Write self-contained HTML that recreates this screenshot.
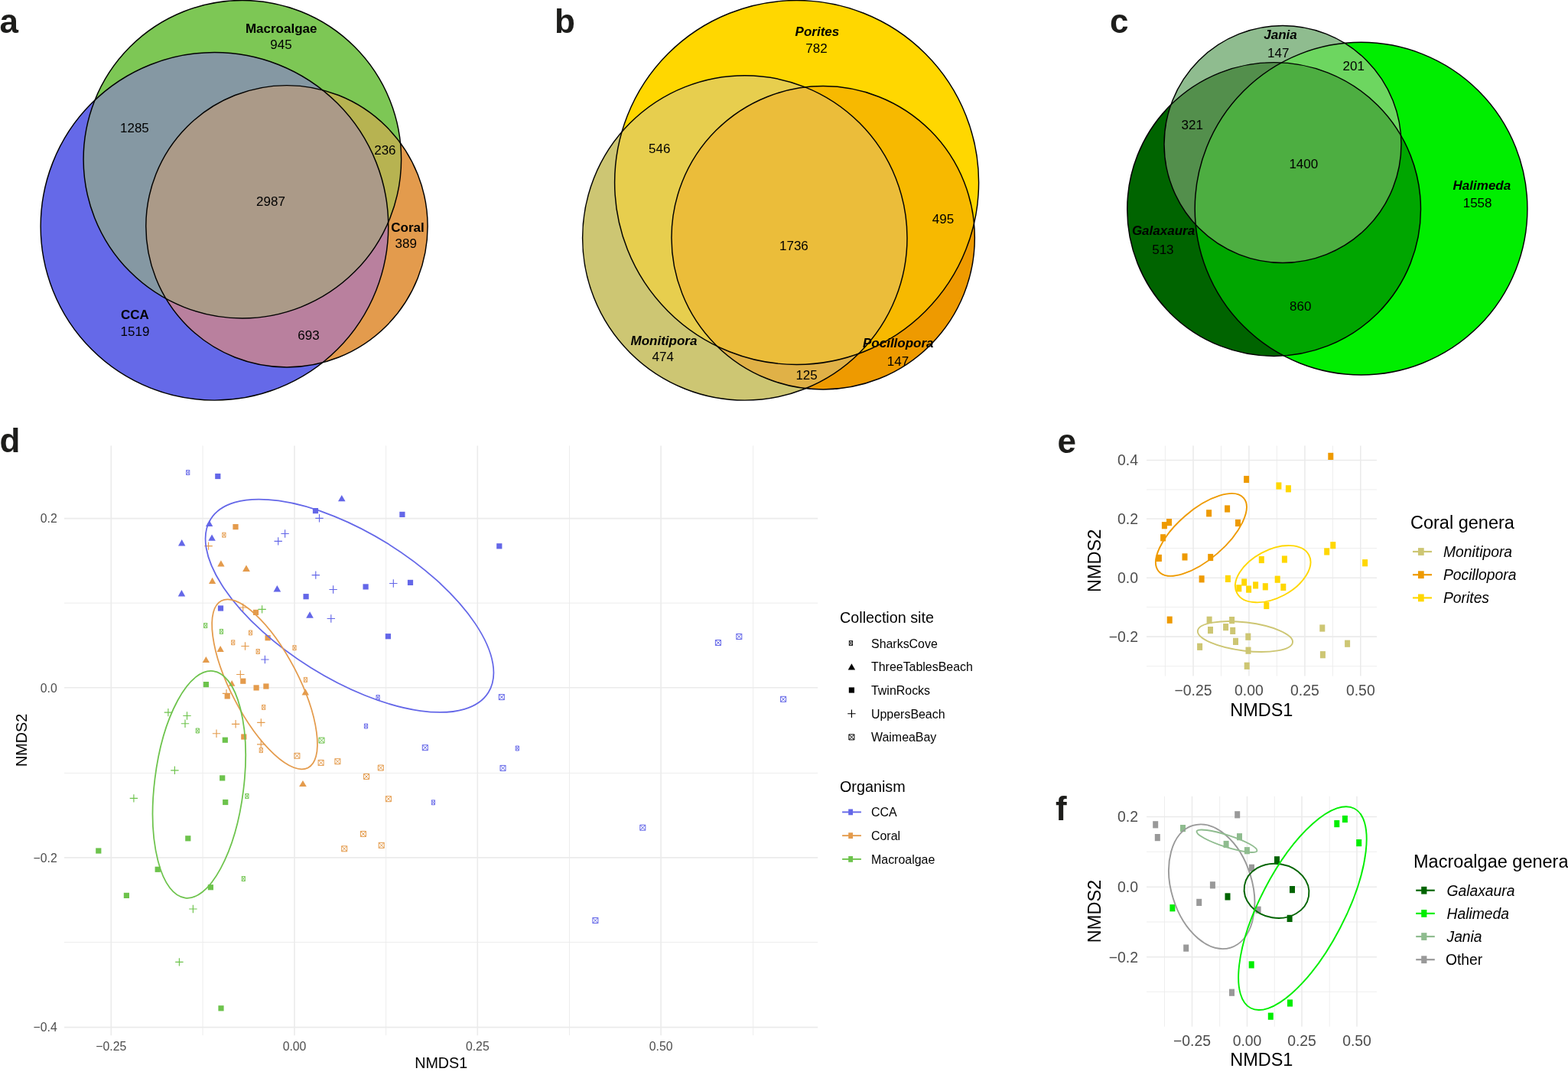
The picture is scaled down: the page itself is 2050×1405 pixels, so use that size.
<!DOCTYPE html>
<html><head><meta charset="utf-8"><title>Figure</title>
<style>html,body{margin:0;padding:0;background:#fff;}svg{display:block;}text{font-family:'Liberation Sans', Arial, Helvetica, sans-serif;}</style>
</head><body>
<svg width="2050" height="1405" viewBox="0 0 2050 1405" font-family="'Liberation Sans', Arial, Helvetica, sans-serif">
<rect width="2050" height="1405" fill="#fff"/>
<defs>
<clipPath id="vaA"><circle cx="280.45" cy="295.8" r="227.3"/></clipPath>
<clipPath id="vaB"><circle cx="316.85" cy="208.2" r="207.75"/></clipPath>
<clipPath id="vaC"><circle cx="374.95" cy="295.75" r="184.15"/></clipPath>
</defs>
<circle cx="280.45" cy="295.8" r="227.3" fill="#6569E8"/>
<circle cx="316.85" cy="208.2" r="207.75" fill="#7DC755"/>
<circle cx="374.95" cy="295.75" r="184.15" fill="#E39B4D"/>
<circle cx="316.85" cy="208.2" r="207.75" fill="#8598A3" clip-path="url(#vaA)"/>
<circle cx="374.95" cy="295.75" r="184.15" fill="#B9809E" clip-path="url(#vaA)"/>
<circle cx="374.95" cy="295.75" r="184.15" fill="#B7B351" clip-path="url(#vaB)"/>
<g clip-path="url(#vaA)">
<circle cx="374.95" cy="295.75" r="184.15" fill="#AB9A88" clip-path="url(#vaB)"/>
</g>
<circle cx="280.45" cy="295.8" r="227.3" fill="none" stroke="#000" stroke-width="1.45"/>
<circle cx="316.85" cy="208.2" r="207.75" fill="none" stroke="#000" stroke-width="1.45"/>
<circle cx="374.95" cy="295.75" r="184.15" fill="none" stroke="#000" stroke-width="1.45"/>
<text x="367.7" y="42.6" font-size="17" font-weight="bold" text-anchor="middle">Macroalgae</text>
<text x="367.5" y="64" font-size="17" text-anchor="middle">945</text>
<text x="175.9" y="172.7" font-size="17" text-anchor="middle">1285</text>
<text x="503.4" y="201.7" font-size="17" text-anchor="middle">236</text>
<text x="354" y="268.5" font-size="17" text-anchor="middle">2987</text>
<text x="533" y="303.3" font-size="17" font-weight="bold" text-anchor="middle">Coral</text>
<text x="530.7" y="324.3" font-size="17" text-anchor="middle">389</text>
<text x="176.3" y="417.4" font-size="17" font-weight="bold" text-anchor="middle">CCA</text>
<text x="176.5" y="439.3" font-size="17" text-anchor="middle">1519</text>
<text x="403.5" y="443.8" font-size="17" text-anchor="middle">693</text>
<defs>
<clipPath id="vbA"><circle cx="1041.6" cy="238.5" r="238"/></clipPath>
<clipPath id="vbB"><circle cx="973.8" cy="310.9" r="212.2"/></clipPath>
<clipPath id="vbC"><circle cx="1076.15" cy="310.75" r="198.2"/></clipPath>
</defs>
<circle cx="1041.6" cy="238.5" r="238" fill="#FFD700"/>
<circle cx="973.8" cy="310.9" r="212.2" fill="#CDC673"/>
<circle cx="1076.15" cy="310.75" r="198.2" fill="#EE9A00"/>
<circle cx="973.8" cy="310.9" r="212.2" fill="#E7CE4E" clip-path="url(#vbA)"/>
<circle cx="1076.15" cy="310.75" r="198.2" fill="#F7B900" clip-path="url(#vbA)"/>
<circle cx="1076.15" cy="310.75" r="198.2" fill="#E0B147" clip-path="url(#vbB)"/>
<g clip-path="url(#vbA)">
<circle cx="1076.15" cy="310.75" r="198.2" fill="#EBBD3A" clip-path="url(#vbB)"/>
</g>
<circle cx="1041.6" cy="238.5" r="238" fill="none" stroke="#000" stroke-width="1.45"/>
<circle cx="973.8" cy="310.9" r="212.2" fill="none" stroke="#000" stroke-width="1.45"/>
<circle cx="1076.15" cy="310.75" r="198.2" fill="none" stroke="#000" stroke-width="1.45"/>
<text x="1068.4" y="47" font-size="17" font-weight="bold" font-style="italic" text-anchor="middle">Porites</text>
<text x="1067.5" y="68.6" font-size="17" text-anchor="middle">782</text>
<text x="862.3" y="199.8" font-size="17" text-anchor="middle">546</text>
<text x="1037.9" y="327.3" font-size="17" text-anchor="middle">1736</text>
<text x="1233" y="292.2" font-size="17" text-anchor="middle">495</text>
<text x="868" y="451" font-size="17" font-weight="bold" font-style="italic" text-anchor="middle">Monitipora</text>
<text x="866.8" y="472.1" font-size="17" text-anchor="middle">474</text>
<text x="1174.3" y="454" font-size="17" font-weight="bold" font-style="italic" text-anchor="middle">Pocillopora</text>
<text x="1174" y="478" font-size="17" text-anchor="middle">147</text>
<text x="1054.6" y="495.8" font-size="17" text-anchor="middle">125</text>
<defs>
<clipPath id="vcA"><circle cx="1677" cy="188.5" r="155"/></clipPath>
<clipPath id="vcB"><circle cx="1665.6" cy="273.5" r="191.9"/></clipPath>
<clipPath id="vcC"><circle cx="1779.55" cy="272.65" r="217.35"/></clipPath>
</defs>
<circle cx="1677" cy="188.5" r="155" fill="#8FBC8F"/>
<circle cx="1665.6" cy="273.5" r="191.9" fill="#006400"/>
<circle cx="1779.55" cy="272.65" r="217.35" fill="#00EE00"/>
<circle cx="1665.6" cy="273.5" r="191.9" fill="#538F4C" clip-path="url(#vcA)"/>
<circle cx="1779.55" cy="272.65" r="217.35" fill="#6DD660" clip-path="url(#vcA)"/>
<circle cx="1779.55" cy="272.65" r="217.35" fill="#00A600" clip-path="url(#vcB)"/>
<g clip-path="url(#vcA)">
<circle cx="1779.55" cy="272.65" r="217.35" fill="#4DAE41" clip-path="url(#vcB)"/>
</g>
<circle cx="1677" cy="188.5" r="155" fill="none" stroke="#000" stroke-width="1.45"/>
<circle cx="1665.6" cy="273.5" r="191.9" fill="none" stroke="#000" stroke-width="1.45"/>
<circle cx="1779.55" cy="272.65" r="217.35" fill="none" stroke="#000" stroke-width="1.45"/>
<text x="1674" y="50.5" font-size="17" font-weight="bold" font-style="italic" text-anchor="middle">Jania</text>
<text x="1671.3" y="75.4" font-size="17" text-anchor="middle">147</text>
<text x="1769.7" y="91.8" font-size="17" text-anchor="middle">201</text>
<text x="1558.7" y="169" font-size="17" text-anchor="middle">321</text>
<text x="1704.3" y="219.6" font-size="17" text-anchor="middle">1400</text>
<text x="1937.4" y="248" font-size="17" font-weight="bold" font-style="italic" text-anchor="middle">Halimeda</text>
<text x="1931.6" y="270.5" font-size="17" text-anchor="middle">1558</text>
<text x="1521" y="307" font-size="17" font-weight="bold" font-style="italic" text-anchor="middle">Galaxaura</text>
<text x="1520.4" y="332" font-size="17" text-anchor="middle">513</text>
<text x="1700.3" y="406.4" font-size="17" text-anchor="middle">860</text>
<text x="-0.5" y="43.3" font-size="44" font-weight="bold" fill="#1d1d1b">a</text>
<text x="725" y="43.3" font-size="44" font-weight="bold" fill="#1d1d1b">b</text>
<text x="1451" y="43" font-size="44" font-weight="bold" fill="#1d1d1b">c</text>
<text x="-0.5" y="591" font-size="44" font-weight="bold" fill="#1d1d1b">d</text>
<text x="1382.5" y="591.5" font-size="44" font-weight="bold" fill="#1d1d1b">e</text>
<text x="1380" y="1072.3" font-size="44" font-weight="bold" fill="#1d1d1b">f</text>
<line x1="265.1" y1="582.5" x2="265.1" y2="1353.2" stroke="#EBEBEB" stroke-width="0.9"/>
<line x1="504.6" y1="582.5" x2="504.6" y2="1353.2" stroke="#EBEBEB" stroke-width="0.9"/>
<line x1="744.5" y1="582.5" x2="744.5" y2="1353.2" stroke="#EBEBEB" stroke-width="0.9"/>
<line x1="984.6" y1="582.5" x2="984.6" y2="1353.2" stroke="#EBEBEB" stroke-width="0.9"/>
<line x1="84" y1="788.2" x2="1069.2" y2="788.2" stroke="#EBEBEB" stroke-width="0.9"/>
<line x1="84" y1="1010.4" x2="1069.2" y2="1010.4" stroke="#EBEBEB" stroke-width="0.9"/>
<line x1="84" y1="1231.5" x2="1069.2" y2="1231.5" stroke="#EBEBEB" stroke-width="0.9"/>
<line x1="145.3" y1="582.5" x2="145.3" y2="1353.2" stroke="#EBEBEB" stroke-width="1.6"/>
<line x1="385" y1="582.5" x2="385" y2="1353.2" stroke="#EBEBEB" stroke-width="1.6"/>
<line x1="624.3" y1="582.5" x2="624.3" y2="1353.2" stroke="#EBEBEB" stroke-width="1.6"/>
<line x1="864.1" y1="582.5" x2="864.1" y2="1353.2" stroke="#EBEBEB" stroke-width="1.6"/>
<line x1="84" y1="677.6" x2="1069.2" y2="677.6" stroke="#EBEBEB" stroke-width="1.6"/>
<line x1="84" y1="898.8" x2="1069.2" y2="898.8" stroke="#EBEBEB" stroke-width="1.6"/>
<line x1="84" y1="1120.9" x2="1069.2" y2="1120.9" stroke="#EBEBEB" stroke-width="1.6"/>
<line x1="84" y1="1342.6" x2="1069.2" y2="1342.6" stroke="#EBEBEB" stroke-width="1.6"/>
<text x="145.3" y="1373.4" font-size="15.8" text-anchor="middle" fill="#4D4D4D">−0.25</text>
<text x="385" y="1373.4" font-size="15.8" text-anchor="middle" fill="#4D4D4D">0.00</text>
<text x="624.3" y="1373.4" font-size="15.8" text-anchor="middle" fill="#4D4D4D">0.25</text>
<text x="864.1" y="1373.4" font-size="15.8" text-anchor="middle" fill="#4D4D4D">0.50</text>
<text x="74.8" y="683.3" font-size="15.8" text-anchor="end" fill="#4D4D4D">0.2</text>
<text x="74.8" y="904.5" font-size="15.8" text-anchor="end" fill="#4D4D4D">0.0</text>
<text x="74.8" y="1126.6" font-size="15.8" text-anchor="end" fill="#4D4D4D">−0.2</text>
<text x="74.8" y="1348.3" font-size="15.8" text-anchor="end" fill="#4D4D4D">−0.4</text>
<text x="576.7" y="1395.7" font-size="19.75" text-anchor="middle">NMDS1</text>
<text x="34.9" y="967.4" font-size="19.75" text-anchor="middle" transform="rotate(-90 34.9 967.4)">NMDS2</text>
<path d="M243.6 614.6h4.2v6.0h-4.2zM243.6 614.6l4.2 6.0M247.8 614.6l-4.2 6.0" stroke="#6467E8" stroke-width="0.9" fill="none"/>
<rect x="281.2" y="618.9" width="7.2" height="7.2" fill="#6467E8"/>
<polygon points="269,688 278.3,688 273.65,680.1" fill="#6467E8"/>
<rect x="304.4" y="685" width="7.2" height="7.2" fill="#E49B4C"/>
<path d="M290.8 696.2h4.2v6.0h-4.2zM290.8 696.2l4.2 6.0M295 696.2l-4.2 6.0" stroke="#E49B4C" stroke-width="0.9" fill="none"/>
<polygon points="272.3,706.7 281.8,706.7 277.05,698.5" fill="#6467E8"/>
<polygon points="233,713.6 242.4,713.6 237.7,705" fill="#6467E8"/>
<path d="M267.4 713.6H277.8M272.6 708.4V718.8" stroke="#E49B4C" stroke-width="1.15" fill="none"/>
<path d="M367.4 697.5H377.8M372.6 692.3V702.7" stroke="#6467E8" stroke-width="1.15" fill="none"/>
<path d="M358.5 707.4H368.9M363.7 702.2V712.6" stroke="#6467E8" stroke-width="1.15" fill="none"/>
<polygon points="284.2,740.6 293.6,740.6 288.9,732.3" fill="#E49B4C"/>
<polygon points="317.1,746.9 326.9,746.9 322,738.5" fill="#E49B4C"/>
<polygon points="273,763 282.2,763 277.6,754.7" fill="#E49B4C"/>
<polygon points="357.5,773.6 367.2,773.6 362.35,765.1" fill="#6467E8"/>
<polygon points="232.7,779.6 242.2,779.6 237.45,771" fill="#6467E8"/>
<polygon points="442,655.2 451.6,655.2 446.8,646.9" fill="#6467E8"/>
<rect x="408.9" y="664" width="7.2" height="7.2" fill="#6467E8"/>
<path d="M412.3 677.3H422.7M417.5 672.1V682.5" stroke="#6467E8" stroke-width="1.15" fill="none"/>
<rect x="522.3" y="668.8" width="7.2" height="7.2" fill="#6467E8"/>
<path d="M407.6 751.6H418M412.8 746.4V756.8" stroke="#6467E8" stroke-width="1.15" fill="none"/>
<path d="M430.4 770.5H440.8M435.6 765.3V775.7" stroke="#6467E8" stroke-width="1.15" fill="none"/>
<rect x="396.5" y="776.1" width="7.2" height="7.2" fill="#6467E8"/>
<rect x="474.5" y="763.3" width="7.2" height="7.2" fill="#6467E8"/>
<path d="M509.1 762.5H519.5M514.3 757.3V767.7" stroke="#6467E8" stroke-width="1.15" fill="none"/>
<rect x="532.9" y="757.8" width="7.2" height="7.2" fill="#6467E8"/>
<rect x="649.2" y="710.2" width="7.2" height="7.2" fill="#6467E8"/>
<rect x="284.9" y="791.4" width="7.2" height="7.2" fill="#6467E8"/>
<path d="M312.5 794H322.9M317.7 788.8V799.2" stroke="#E49B4C" stroke-width="1.15" fill="none"/>
<rect x="330.9" y="796.8" width="7.2" height="7.2" fill="#E49B4C"/>
<path d="M337.4 796.4H347.8M342.6 791.2V801.6" stroke="#6DC34C" stroke-width="1.15" fill="none"/>
<path d="M266.6 814.6h4.2v6.0h-4.2zM266.6 814.6l4.2 6.0M270.8 814.6l-4.2 6.0" stroke="#6DC34C" stroke-width="0.9" fill="none"/>
<path d="M287.3 822.4h4.2v6.0h-4.2zM287.3 822.4l4.2 6.0M291.5 822.4l-4.2 6.0" stroke="#6DC34C" stroke-width="0.9" fill="none"/>
<path d="M325.4 824h4.2v6.0h-4.2zM325.4 824l4.2 6.0M329.6 824l-4.2 6.0" stroke="#E49B4C" stroke-width="0.9" fill="none"/>
<rect x="346.5" y="830.1" width="7.2" height="7.2" fill="#E49B4C"/>
<path d="M302.6 836.8h4.2v6.0h-4.2zM302.6 836.8l4.2 6.0M306.8 836.8l-4.2 6.0" stroke="#E49B4C" stroke-width="0.9" fill="none"/>
<path d="M315.3 844.5H325.7M320.5 839.3V849.7" stroke="#E49B4C" stroke-width="1.15" fill="none"/>
<path d="M335.1 848.5h4.2v6.0h-4.2zM335.1 848.5l4.2 6.0M339.3 848.5l-4.2 6.0" stroke="#E49B4C" stroke-width="0.9" fill="none"/>
<path d="M382.9 843.7h4.2v6.0h-4.2zM382.9 843.7l4.2 6.0M387.1 843.7l-4.2 6.0" stroke="#E49B4C" stroke-width="0.9" fill="none"/>
<polygon points="283.5,851.9 292.8,851.9 288.15,844.1" fill="#E49B4C"/>
<polygon points="264.7,865.9 274,865.9 269.35,858" fill="#E49B4C"/>
<path d="M341.2 862H351.6M346.4 856.8V867.2" stroke="#6467E8" stroke-width="1.15" fill="none"/>
<path d="M309.1 881.5H319.5M314.3 876.3V886.7" stroke="#E49B4C" stroke-width="1.15" fill="none"/>
<rect x="314.2" y="886.6" width="7.2" height="7.2" fill="#E49B4C"/>
<polygon points="298.9,896.8 307.4,896.8 303.15,888.9" fill="#E49B4C"/>
<rect x="265.8" y="891" width="7.2" height="7.2" fill="#6DC34C"/>
<rect x="331.5" y="895.3" width="7.2" height="7.2" fill="#E49B4C"/>
<rect x="344.3" y="893.4" width="7.2" height="7.2" fill="#E49B4C"/>
<path d="M290.8 906.3H301.2M296 901.1V911.5" stroke="#E49B4C" stroke-width="1.15" fill="none"/>
<rect x="293.6" y="906.3" width="7.2" height="7.2" fill="#E49B4C"/>
<path d="M342.6 921.4h4.2v6.0h-4.2zM342.6 921.4l4.2 6.0M346.8 921.4l-4.2 6.0" stroke="#E49B4C" stroke-width="0.9" fill="none"/>
<path d="M214.7 931.1H225.1M219.9 925.9V936.3" stroke="#6DC34C" stroke-width="1.15" fill="none"/>
<path d="M239.3 935.5H249.7M244.5 930.3V940.7" stroke="#6DC34C" stroke-width="1.15" fill="none"/>
<path d="M236.8 945.7H247.2M242 940.5V950.9" stroke="#6DC34C" stroke-width="1.15" fill="none"/>
<path d="M256.2 952h4.2v6.0h-4.2zM256.2 952l4.2 6.0M260.4 952l-4.2 6.0" stroke="#6DC34C" stroke-width="0.9" fill="none"/>
<path d="M302.9 946.3H313.3M308.1 941.1V951.5" stroke="#E49B4C" stroke-width="1.15" fill="none"/>
<path d="M336.1 944.4H346.5M341.3 939.2V949.6" stroke="#E49B4C" stroke-width="1.15" fill="none"/>
<path d="M277.8 958.7H288.2M283 953.5V963.9" stroke="#E49B4C" stroke-width="1.15" fill="none"/>
<rect x="290.7" y="963.6" width="7.2" height="7.2" fill="#6DC34C"/>
<rect x="315.2" y="959.4" width="7.2" height="7.2" fill="#E49B4C"/>
<path d="M336 972.9H346.4M341.2 967.7V978.1" stroke="#E49B4C" stroke-width="1.15" fill="none"/>
<path d="M339.2 977.6h4.2v6.0h-4.2zM339.2 977.6l4.2 6.0M343.4 977.6l-4.2 6.0" stroke="#E49B4C" stroke-width="0.9" fill="none"/>
<polygon points="400.2,807.8 409.9,807.8 405.05,799.3" fill="#6467E8"/>
<path d="M427.6 808.5H438M432.8 803.3V813.7" stroke="#6467E8" stroke-width="1.15" fill="none"/>
<rect x="503.8" y="828.1" width="7.2" height="7.2" fill="#6467E8"/>
<path d="M397.3 885.4h4.2v6.0h-4.2zM397.3 885.4l4.2 6.0M401.5 885.4l-4.2 6.0" stroke="#E49B4C" stroke-width="0.9" fill="none"/>
<polygon points="394.6,908.5 404,908.5 399.3,900.2" fill="#E49B4C"/>
<path d="M492 908.6h4.2v6.0h-4.2zM492 908.6l4.2 6.0M496.2 908.6l-4.2 6.0" stroke="#6467E8" stroke-width="0.9" fill="none"/>
<path d="M476.4 946h4.2v6.0h-4.2zM476.4 946l4.2 6.0M480.6 946l-4.2 6.0" stroke="#6467E8" stroke-width="0.9" fill="none"/>
<path d="M417 964.1h7.0v7.0h-7.0zM417 964.1l7.0 7.0M424 964.1l-7.0 7.0" stroke="#6DC34C" stroke-width="1.0" fill="none"/>
<path d="M552.3 973.7h7.0v7.0h-7.0zM552.3 973.7l7.0 7.0M559.3 973.7l-7.0 7.0" stroke="#6467E8" stroke-width="1.0" fill="none"/>
<path d="M652.3 907.6h7.0v7.0h-7.0zM652.3 907.6l7.0 7.0M659.3 907.6l-7.0 7.0" stroke="#6467E8" stroke-width="1.0" fill="none"/>
<path d="M674.2 975h4.2v6.0h-4.2zM674.2 975l4.2 6.0M678.4 975l-4.2 6.0" stroke="#6467E8" stroke-width="0.9" fill="none"/>
<path d="M935.4 836.5h7.0v7.0h-7.0zM935.4 836.5l7.0 7.0M942.4 836.5l-7.0 7.0" stroke="#6467E8" stroke-width="1.0" fill="none"/>
<path d="M962.8 828.5h7.0v7.0h-7.0zM962.8 828.5l7.0 7.0M969.8 828.5l-7.0 7.0" stroke="#6467E8" stroke-width="1.0" fill="none"/>
<path d="M1020.6 910.3h7.0v7.0h-7.0zM1020.6 910.3l7.0 7.0M1027.6 910.3l-7.0 7.0" stroke="#6467E8" stroke-width="1.0" fill="none"/>
<path d="M223.2 1006.8H233.6M228.4 1001.6V1012" stroke="#6DC34C" stroke-width="1.15" fill="none"/>
<rect x="287.1" y="1013.3" width="7.2" height="7.2" fill="#6DC34C"/>
<path d="M169.7 1043.4H180.1M174.9 1038.2V1048.6" stroke="#6DC34C" stroke-width="1.15" fill="none"/>
<rect x="291.1" y="1044.9" width="7.2" height="7.2" fill="#6DC34C"/>
<rect x="242.2" y="1092.2" width="7.2" height="7.2" fill="#6DC34C"/>
<rect x="125.2" y="1108.4" width="7.2" height="7.2" fill="#6DC34C"/>
<rect x="202.6" y="1132.7" width="7.2" height="7.2" fill="#6DC34C"/>
<rect x="161.8" y="1166.8" width="7.2" height="7.2" fill="#6DC34C"/>
<rect x="271.8" y="1156.1" width="7.2" height="7.2" fill="#6DC34C"/>
<path d="M247.2 1188H257.6M252.4 1182.8V1193.2" stroke="#6DC34C" stroke-width="1.15" fill="none"/>
<path d="M316.2 1145.5h4.2v6.0h-4.2zM316.2 1145.5l4.2 6.0M320.4 1145.5l-4.2 6.0" stroke="#6DC34C" stroke-width="0.9" fill="none"/>
<path d="M229.2 1257.4H239.6M234.4 1252.2V1262.6" stroke="#6DC34C" stroke-width="1.15" fill="none"/>
<rect x="285.4" y="1314.2" width="7.2" height="7.2" fill="#6DC34C"/>
<path d="M384.9 984.3h7.0v7.0h-7.0zM384.9 984.3l7.0 7.0M391.9 984.3l-7.0 7.0" stroke="#E49B4C" stroke-width="1.0" fill="none"/>
<path d="M416.1 993.4h7.0v7.0h-7.0zM416.1 993.4l7.0 7.0M423.1 993.4l-7.0 7.0" stroke="#E49B4C" stroke-width="1.0" fill="none"/>
<path d="M437.9 991.7h7.0v7.0h-7.0zM437.9 991.7l7.0 7.0M444.9 991.7l-7.0 7.0" stroke="#E49B4C" stroke-width="1.0" fill="none"/>
<path d="M475.6 1011.4h7.0v7.0h-7.0zM475.6 1011.4l7.0 7.0M482.6 1011.4l-7.0 7.0" stroke="#E49B4C" stroke-width="1.0" fill="none"/>
<polygon points="391.1,1028.1 400.8,1028.1 395.95,1020.1" fill="#E49B4C"/>
<path d="M320.8 1037.5h4.2v6.0h-4.2zM320.8 1037.5l4.2 6.0M325 1037.5l-4.2 6.0" stroke="#6DC34C" stroke-width="0.9" fill="none"/>
<path d="M471.4 1086.4h7.0v7.0h-7.0zM471.4 1086.4l7.0 7.0M478.4 1086.4l-7.0 7.0" stroke="#E49B4C" stroke-width="1.0" fill="none"/>
<path d="M446.7 1105.8h7.0v7.0h-7.0zM446.7 1105.8l7.0 7.0M453.7 1105.8l-7.0 7.0" stroke="#E49B4C" stroke-width="1.0" fill="none"/>
<path d="M494.3 1000h7.0v7.0h-7.0zM494.3 1000l7.0 7.0M501.3 1000l-7.0 7.0" stroke="#E49B4C" stroke-width="1.0" fill="none"/>
<path d="M654 1000.4h7.0v7.0h-7.0zM654 1000.4l7.0 7.0M661 1000.4l-7.0 7.0" stroke="#6467E8" stroke-width="1.0" fill="none"/>
<path d="M504.4 1040.7h7.0v7.0h-7.0zM504.4 1040.7l7.0 7.0M511.4 1040.7l-7.0 7.0" stroke="#E49B4C" stroke-width="1.0" fill="none"/>
<path d="M564.3 1045.8h4.2v6.0h-4.2zM564.3 1045.8l4.2 6.0M568.5 1045.8l-4.2 6.0" stroke="#6467E8" stroke-width="0.9" fill="none"/>
<path d="M495.2 1101.3h7.0v7.0h-7.0zM495.2 1101.3l7.0 7.0M502.2 1101.3l-7.0 7.0" stroke="#E49B4C" stroke-width="1.0" fill="none"/>
<path d="M836.8 1078.2h7.0v7.0h-7.0zM836.8 1078.2l7.0 7.0M843.8 1078.2l-7.0 7.0" stroke="#6467E8" stroke-width="1.0" fill="none"/>
<path d="M774.9 1199.5h7.0v7.0h-7.0zM774.9 1199.5l7.0 7.0M781.9 1199.5l-7.0 7.0" stroke="#6467E8" stroke-width="1.0" fill="none"/>
<ellipse cx="456.99" cy="791.76" rx="95.38" ry="213.96" transform="rotate(121.96 456.99 791.76)" fill="none" stroke="#6467E8" stroke-width="1.75"/>
<ellipse cx="346.05" cy="894.33" rx="122.96" ry="44.17" transform="rotate(-117.46 346.05 894.33)" fill="none" stroke="#E49B4C" stroke-width="1.75"/>
<ellipse cx="260.36" cy="1025.35" rx="149.35" ry="58.34" transform="rotate(-83 260.36 1025.35)" fill="none" stroke="#6DC34C" stroke-width="1.75"/>
<text x="1098" y="814.2" font-size="19.75">Collection site</text>
<path d="M1110.3 837.6h4.2v6.0h-4.2zM1110.3 837.6l4.2 6.0M1114.5 837.6l-4.2 6.0" stroke="#000" stroke-width="0.9" fill="none"/>
<text x="1139" y="846.6" font-size="15.95">SharksCove</text>
<polygon points="1108.7,875.4 1118.1,875.4 1113.4,867.2" fill="#000"/>
<text x="1139" y="877.3" font-size="15.95">ThreeTablesBeach</text>
<rect x="1109.8" y="898.4" width="7.2" height="7.2" fill="#000"/>
<text x="1139" y="908" font-size="15.95">TwinRocks</text>
<path d="M1108.2 932.7H1118.6M1113.4 927.5V937.9" stroke="#000" stroke-width="1.15" fill="none"/>
<text x="1139" y="938.7" font-size="15.95">UppersBeach</text>
<path d="M1109.9 959.9h7.0v7.0h-7.0zM1109.9 959.9l7.0 7.0M1116.9 959.9l-7.0 7.0" stroke="#000" stroke-width="1.0" fill="none"/>
<text x="1139" y="969.4" font-size="15.95">WaimeaBay</text>
<text x="1098" y="1034.5" font-size="19.75">Organism</text>
<line x1="1101.1" y1="1061.4" x2="1125.9" y2="1061.4" stroke="#6467E8" stroke-width="1.9"/>
<rect x="1109.2" y="1057.5" width="5.8" height="7.8" fill="#6467E8"/>
<text x="1139" y="1067.3" font-size="15.95">CCA</text>
<line x1="1101.1" y1="1092.15" x2="1125.9" y2="1092.15" stroke="#E49B4C" stroke-width="1.9"/>
<rect x="1109.2" y="1088.25" width="5.8" height="7.8" fill="#E49B4C"/>
<text x="1139" y="1098.05" font-size="15.95">Coral</text>
<line x1="1101.1" y1="1122.9" x2="1125.9" y2="1122.9" stroke="#6DC34C" stroke-width="1.9"/>
<rect x="1109.2" y="1119" width="5.8" height="7.8" fill="#6DC34C"/>
<text x="1139" y="1128.8" font-size="15.95">Macroalgae</text>
<line x1="1523.4" y1="582.6" x2="1523.4" y2="883.6" stroke="#EBEBEB" stroke-width="0.85"/>
<line x1="1596.5" y1="582.6" x2="1596.5" y2="883.6" stroke="#EBEBEB" stroke-width="0.85"/>
<line x1="1669.4" y1="582.6" x2="1669.4" y2="883.6" stroke="#EBEBEB" stroke-width="0.85"/>
<line x1="1742.4" y1="582.6" x2="1742.4" y2="883.6" stroke="#EBEBEB" stroke-width="0.85"/>
<line x1="1499" y1="640" x2="1800" y2="640" stroke="#EBEBEB" stroke-width="0.85"/>
<line x1="1499" y1="716.5" x2="1800" y2="716.5" stroke="#EBEBEB" stroke-width="0.85"/>
<line x1="1499" y1="793.4" x2="1800" y2="793.4" stroke="#EBEBEB" stroke-width="0.85"/>
<line x1="1499" y1="870.8" x2="1800" y2="870.8" stroke="#EBEBEB" stroke-width="0.85"/>
<line x1="1560" y1="582.6" x2="1560" y2="883.6" stroke="#EBEBEB" stroke-width="1.55"/>
<line x1="1632.9" y1="582.6" x2="1632.9" y2="883.6" stroke="#EBEBEB" stroke-width="1.55"/>
<line x1="1705.9" y1="582.6" x2="1705.9" y2="883.6" stroke="#EBEBEB" stroke-width="1.55"/>
<line x1="1778.8" y1="582.6" x2="1778.8" y2="883.6" stroke="#EBEBEB" stroke-width="1.55"/>
<line x1="1499" y1="601.4" x2="1800" y2="601.4" stroke="#EBEBEB" stroke-width="1.55"/>
<line x1="1499" y1="678" x2="1800" y2="678" stroke="#EBEBEB" stroke-width="1.55"/>
<line x1="1499" y1="755.2" x2="1800" y2="755.2" stroke="#EBEBEB" stroke-width="1.55"/>
<line x1="1499" y1="832.1" x2="1800" y2="832.1" stroke="#EBEBEB" stroke-width="1.55"/>
<text x="1560" y="908.8" font-size="19.4" text-anchor="middle" fill="#4D4D4D">−0.25</text>
<text x="1632.9" y="908.8" font-size="19.4" text-anchor="middle" fill="#4D4D4D">0.00</text>
<text x="1705.9" y="908.8" font-size="19.4" text-anchor="middle" fill="#4D4D4D">0.25</text>
<text x="1778.8" y="908.8" font-size="19.4" text-anchor="middle" fill="#4D4D4D">0.50</text>
<text x="1488" y="608.2" font-size="19.4" text-anchor="end" fill="#4D4D4D">0.4</text>
<text x="1488" y="684.8" font-size="19.4" text-anchor="end" fill="#4D4D4D">0.2</text>
<text x="1488" y="762" font-size="19.4" text-anchor="end" fill="#4D4D4D">0.0</text>
<text x="1488" y="838.9" font-size="19.4" text-anchor="end" fill="#4D4D4D">−0.2</text>
<text x="1649.3" y="935.6" font-size="23.5" text-anchor="middle">NMDS1</text>
<text x="1438.7" y="732.9" font-size="23.5" text-anchor="middle" transform="rotate(-90 1438.7 732.9)">NMDS2</text>
<rect x="1626.1" y="621.9" width="7" height="9.2" fill="#EE9A00"/>
<rect x="1601.1" y="660.4" width="7" height="9.2" fill="#EE9A00"/>
<rect x="1577.1" y="666.2" width="7" height="9.2" fill="#EE9A00"/>
<rect x="1615" y="678.9" width="7" height="9.2" fill="#EE9A00"/>
<rect x="1525" y="678" width="7" height="9.2" fill="#EE9A00"/>
<rect x="1518.9" y="682.1" width="7" height="9.2" fill="#EE9A00"/>
<rect x="1517.1" y="698.2" width="7" height="9.2" fill="#EE9A00"/>
<rect x="1511.9" y="724.8" width="7" height="9.2" fill="#EE9A00"/>
<rect x="1545.5" y="723.3" width="7" height="9.2" fill="#EE9A00"/>
<rect x="1579.2" y="723.9" width="7" height="9.2" fill="#EE9A00"/>
<rect x="1736.3" y="591.8" width="7" height="9.2" fill="#EE9A00"/>
<rect x="1567.6" y="752.2" width="7" height="9.2" fill="#EE9A00"/>
<rect x="1525.7" y="805.6" width="7" height="9.2" fill="#EE9A00"/>
<rect x="1668.4" y="630.4" width="7" height="9.2" fill="#FFD700"/>
<rect x="1680.9" y="634.2" width="7" height="9.2" fill="#FFD700"/>
<rect x="1739.3" y="708.1" width="7" height="9.2" fill="#FFD700"/>
<rect x="1731.2" y="716.3" width="7" height="9.2" fill="#FFD700"/>
<rect x="1645.8" y="726.9" width="7" height="9.2" fill="#FFD700"/>
<rect x="1675.9" y="726.4" width="7" height="9.2" fill="#FFD700"/>
<rect x="1781.1" y="731.1" width="7" height="9.2" fill="#FFD700"/>
<rect x="1601.9" y="751.8" width="7" height="9.2" fill="#FFD700"/>
<rect x="1623.2" y="756.4" width="7" height="9.2" fill="#FFD700"/>
<rect x="1616.3" y="764.2" width="7" height="9.2" fill="#FFD700"/>
<rect x="1629.1" y="765.5" width="7" height="9.2" fill="#FFD700"/>
<rect x="1638.1" y="760.3" width="7" height="9.2" fill="#FFD700"/>
<rect x="1650.8" y="762.2" width="7" height="9.2" fill="#FFD700"/>
<rect x="1666.7" y="752.6" width="7" height="9.2" fill="#FFD700"/>
<rect x="1674.3" y="762.8" width="7" height="9.2" fill="#FFD700"/>
<rect x="1652.3" y="786.9" width="7" height="9.2" fill="#FFD700"/>
<rect x="1577.6" y="805.7" width="7" height="9.2" fill="#CDC673"/>
<rect x="1607.1" y="806" width="7" height="9.2" fill="#CDC673"/>
<rect x="1579" y="819" width="7" height="9.2" fill="#CDC673"/>
<rect x="1599.1" y="815" width="7" height="9.2" fill="#CDC673"/>
<rect x="1608.2" y="819.8" width="7" height="9.2" fill="#CDC673"/>
<rect x="1628.3" y="827.6" width="7" height="9.2" fill="#CDC673"/>
<rect x="1612" y="833.8" width="7" height="9.2" fill="#CDC673"/>
<rect x="1565.1" y="840.7" width="7" height="9.2" fill="#CDC673"/>
<rect x="1628.5" y="845.6" width="7" height="9.2" fill="#CDC673"/>
<rect x="1626.7" y="865.7" width="7" height="9.2" fill="#CDC673"/>
<rect x="1725.3" y="816.4" width="7" height="9.2" fill="#CDC673"/>
<rect x="1758.1" y="836.6" width="7" height="9.2" fill="#CDC673"/>
<rect x="1725.9" y="851.1" width="7" height="9.2" fill="#CDC673"/>
<ellipse cx="1570.43" cy="698.91" rx="73.33" ry="32.34" transform="rotate(139.15 1570.43 698.91)" fill="none" stroke="#EE9A00" stroke-width="1.9"/>
<ellipse cx="1664.21" cy="750.19" rx="31.21" ry="53.18" transform="rotate(62.08 1664.21 750.19)" fill="none" stroke="#FFD700" stroke-width="1.9"/>
<ellipse cx="1627.93" cy="831.99" rx="62.51" ry="18.58" transform="rotate(-173.06 1627.93 831.99)" fill="none" stroke="#CDC673" stroke-width="1.9"/>
<text x="1844" y="691" font-size="23.5">Coral genera</text>
<line x1="1847" y1="721" x2="1872" y2="721" stroke="#CDC673" stroke-width="2.2"/>
<rect x="1854" y="716.1" width="7.7" height="9.8" fill="#CDC673"/>
<text x="1887" y="727.9" font-size="19.3" font-style="italic">Monitipora</text>
<line x1="1847" y1="751.2" x2="1872" y2="751.2" stroke="#EE9A00" stroke-width="2.2"/>
<rect x="1854" y="746.3" width="7.7" height="9.8" fill="#EE9A00"/>
<text x="1887" y="758.1" font-size="19.3" font-style="italic">Pocillopora</text>
<line x1="1847" y1="781.4" x2="1872" y2="781.4" stroke="#FFD700" stroke-width="2.2"/>
<rect x="1854" y="776.5" width="7.7" height="9.8" fill="#FFD700"/>
<text x="1887" y="788.3" font-size="19.3" font-style="italic">Porites</text>
<line x1="1522.5" y1="1040.8" x2="1522.5" y2="1341.7" stroke="#EBEBEB" stroke-width="0.85"/>
<line x1="1594.7" y1="1040.8" x2="1594.7" y2="1341.7" stroke="#EBEBEB" stroke-width="0.85"/>
<line x1="1666.3" y1="1040.8" x2="1666.3" y2="1341.7" stroke="#EBEBEB" stroke-width="0.85"/>
<line x1="1738.2" y1="1040.8" x2="1738.2" y2="1341.7" stroke="#EBEBEB" stroke-width="0.85"/>
<line x1="1499" y1="1113.2" x2="1800" y2="1113.2" stroke="#EBEBEB" stroke-width="0.85"/>
<line x1="1499" y1="1205" x2="1800" y2="1205" stroke="#EBEBEB" stroke-width="0.85"/>
<line x1="1499" y1="1296.2" x2="1800" y2="1296.2" stroke="#EBEBEB" stroke-width="0.85"/>
<line x1="1558.5" y1="1040.8" x2="1558.5" y2="1341.7" stroke="#EBEBEB" stroke-width="1.55"/>
<line x1="1630.5" y1="1040.8" x2="1630.5" y2="1341.7" stroke="#EBEBEB" stroke-width="1.55"/>
<line x1="1702" y1="1040.8" x2="1702" y2="1341.7" stroke="#EBEBEB" stroke-width="1.55"/>
<line x1="1774" y1="1040.8" x2="1774" y2="1341.7" stroke="#EBEBEB" stroke-width="1.55"/>
<line x1="1499" y1="1067.5" x2="1800" y2="1067.5" stroke="#EBEBEB" stroke-width="1.55"/>
<line x1="1499" y1="1159.2" x2="1800" y2="1159.2" stroke="#EBEBEB" stroke-width="1.55"/>
<line x1="1499" y1="1250.7" x2="1800" y2="1250.7" stroke="#EBEBEB" stroke-width="1.55"/>
<text x="1558.5" y="1366.8" font-size="19.4" text-anchor="middle" fill="#4D4D4D">−0.25</text>
<text x="1630.5" y="1366.8" font-size="19.4" text-anchor="middle" fill="#4D4D4D">0.00</text>
<text x="1702" y="1366.8" font-size="19.4" text-anchor="middle" fill="#4D4D4D">0.25</text>
<text x="1774" y="1366.8" font-size="19.4" text-anchor="middle" fill="#4D4D4D">0.50</text>
<text x="1488" y="1074.3" font-size="19.4" text-anchor="end" fill="#4D4D4D">0.2</text>
<text x="1488" y="1166" font-size="19.4" text-anchor="end" fill="#4D4D4D">0.0</text>
<text x="1488" y="1257.5" font-size="19.4" text-anchor="end" fill="#4D4D4D">−0.2</text>
<text x="1649.3" y="1393.3" font-size="23.5" text-anchor="middle">NMDS1</text>
<text x="1438.7" y="1191" font-size="23.5" text-anchor="middle" transform="rotate(-90 1438.7 1191)">NMDS2</text>
<rect x="1507.2" y="1073.2" width="7" height="9.2" fill="#999999"/>
<rect x="1509.8" y="1090" width="7" height="9.2" fill="#999999"/>
<rect x="1614.2" y="1060.2" width="7" height="9.2" fill="#999999"/>
<rect x="1633" y="1129.7" width="7" height="9.2" fill="#999999"/>
<rect x="1581.9" y="1152.2" width="7" height="9.2" fill="#999999"/>
<rect x="1564.2" y="1174.8" width="7" height="9.2" fill="#999999"/>
<rect x="1641.6" y="1184.6" width="7" height="9.2" fill="#999999"/>
<rect x="1547.2" y="1234.5" width="7" height="9.2" fill="#999999"/>
<rect x="1607" y="1292.6" width="7" height="9.2" fill="#999999"/>
<rect x="1543" y="1078" width="7" height="9.2" fill="#8FBC8F"/>
<rect x="1617" y="1089.1" width="7" height="9.2" fill="#8FBC8F"/>
<rect x="1599.6" y="1098.9" width="7" height="9.2" fill="#8FBC8F"/>
<rect x="1626.9" y="1107.1" width="7" height="9.2" fill="#8FBC8F"/>
<rect x="1666" y="1119.2" width="7" height="9.2" fill="#006400"/>
<rect x="1601.5" y="1167.3" width="7" height="9.2" fill="#006400"/>
<rect x="1686" y="1158" width="7" height="9.2" fill="#006400"/>
<rect x="1682.6" y="1195.8" width="7" height="9.2" fill="#006400"/>
<rect x="1744.3" y="1072" width="7" height="9.2" fill="#00EE00"/>
<rect x="1754.9" y="1065.9" width="7" height="9.2" fill="#00EE00"/>
<rect x="1773.2" y="1097" width="7" height="9.2" fill="#00EE00"/>
<rect x="1529.4" y="1182.1" width="7" height="9.2" fill="#00EE00"/>
<rect x="1632.7" y="1256.3" width="7" height="9.2" fill="#00EE00"/>
<rect x="1683" y="1306.4" width="7" height="9.2" fill="#00EE00"/>
<rect x="1657.8" y="1323.6" width="7" height="9.2" fill="#00EE00"/>
<ellipse cx="1584.18" cy="1158.73" rx="52.75" ry="83.58" transform="rotate(162.8 1584.18 1158.73)" fill="none" stroke="#999999" stroke-width="1.9"/>
<ellipse cx="1603.98" cy="1099.24" rx="41.43" ry="7.8" transform="rotate(-162.12 1603.98 1099.24)" fill="none" stroke="#8FBC8F" stroke-width="1.9"/>
<ellipse cx="1669.02" cy="1164.36" rx="42.6" ry="35.39" transform="rotate(-170.47 1669.02 1164.36)" fill="none" stroke="#006400" stroke-width="1.9"/>
<ellipse cx="1702.91" cy="1187.13" rx="55.48" ry="146.97" transform="rotate(-152.53 1702.91 1187.13)" fill="none" stroke="#00EE00" stroke-width="1.9"/>
<text x="1848" y="1133.8" font-size="23.5">Macroalgae genera</text>
<line x1="1851.2" y1="1163.7" x2="1875.8" y2="1163.7" stroke="#006400" stroke-width="2.2"/>
<rect x="1858.2" y="1158.8" width="7.2" height="9.8" fill="#006400"/>
<text x="1891.5" y="1170.6" font-size="19.3" font-style="italic">Galaxaura</text>
<line x1="1851.2" y1="1193.87" x2="1875.8" y2="1193.87" stroke="#00EE00" stroke-width="2.2"/>
<rect x="1858.2" y="1188.97" width="7.2" height="9.8" fill="#00EE00"/>
<text x="1891.5" y="1200.77" font-size="19.3" font-style="italic">Halimeda</text>
<line x1="1851.2" y1="1224.04" x2="1875.8" y2="1224.04" stroke="#8FBC8F" stroke-width="2.2"/>
<rect x="1858.2" y="1219.14" width="7.2" height="9.8" fill="#8FBC8F"/>
<text x="1891.5" y="1230.94" font-size="19.3" font-style="italic">Jania</text>
<line x1="1851.2" y1="1254.21" x2="1875.8" y2="1254.21" stroke="#999999" stroke-width="2.2"/>
<rect x="1858.2" y="1249.31" width="7.2" height="9.8" fill="#999999"/>
<text x="1890" y="1261.11" font-size="19.3">Other</text>
</svg>
</body></html>
